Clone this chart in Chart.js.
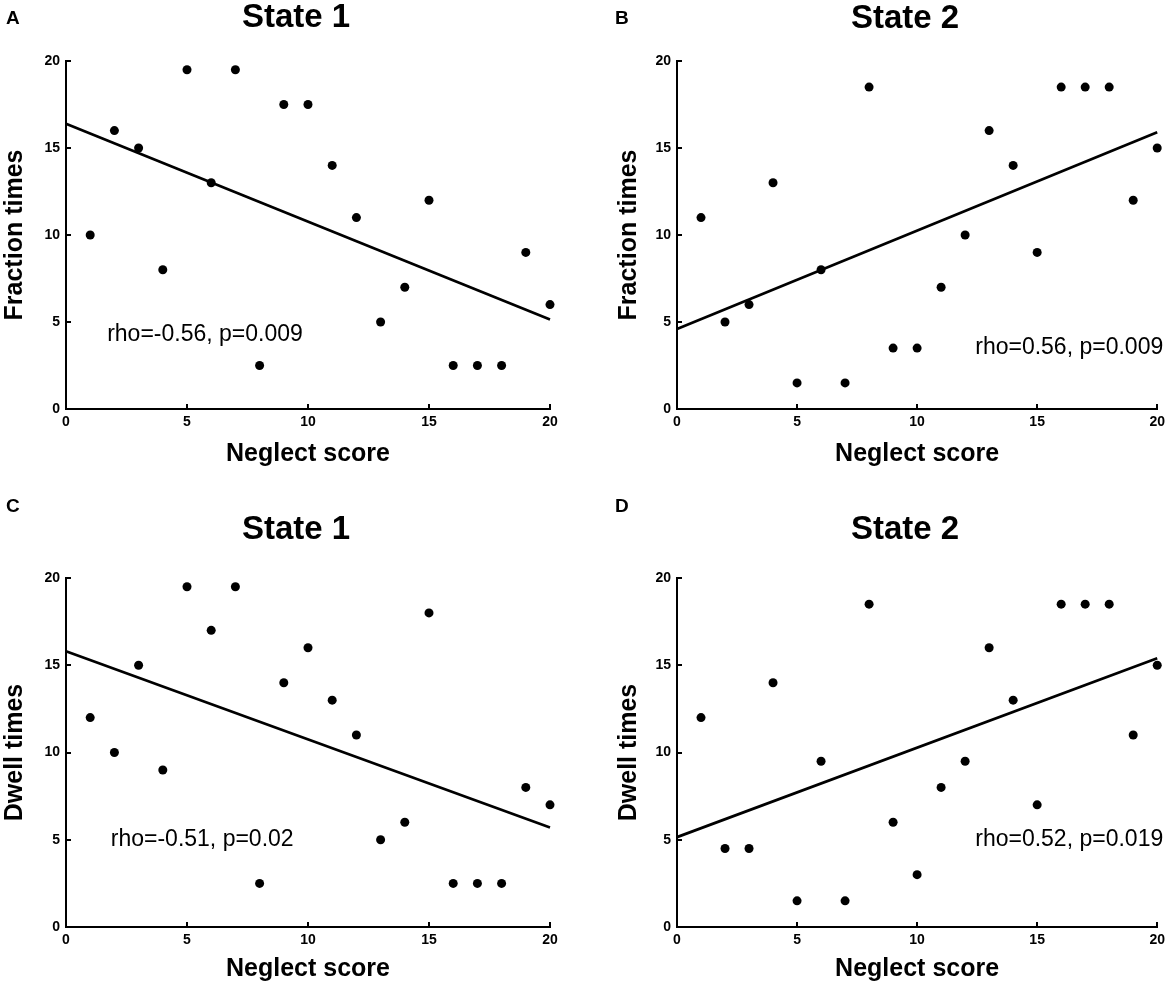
<!DOCTYPE html>
<html>
<head>
<meta charset="utf-8">
<script src="https://cdn.jsdelivr.net/npm/chart.js@4.4.1/dist/chart.umd.min.js"></script>
<style>
  html, body { margin: 0; padding: 0; background: #fff; }
  #wrap { position: relative; width: 1170px; height: 985px; }
  canvas { position: absolute; }
</style>
</head>
<body>
<div id="wrap">
  <canvas id="cA" width="585" height="490" style="left:0;top:0"></canvas>
  <canvas id="cB" width="585" height="490" style="left:585px;top:0"></canvas>
  <canvas id="cC" width="585" height="495" style="left:0;top:490px"></canvas>
  <canvas id="cD" width="585" height="495" style="left:585px;top:490px"></canvas>
</div>
<script>
// --- data ---
const neglectScore = [1, 2, 3, 4, 5, 6, 7, 8, 9, 10, 11, 12, 13, 14, 15, 16, 17, 18, 19, 20];
const fractionState1 = [10, 16, 15, 8, 19.5, 13, 19.5, 2.5, 17.5, 17.5, 14, 11, 5, 7, 12, 2.5, 2.5, 2.5, 9, 6];
const fractionState2 = [11, 5, 6, 13, 1.5, 8, 1.5, 18.5, 3.5, 3.5, 7, 10, 16, 14, 9, 18.5, 18.5, 18.5, 12, 15];
const dwellState1 = [12, 10, 15, 9, 19.5, 17, 19.5, 2.5, 14, 16, 13, 11, 5, 6, 18, 2.5, 2.5, 2.5, 8, 7];
const dwellState2 = [12, 4.5, 4.5, 14, 1.5, 9.5, 1.5, 18.5, 6, 3, 8, 9.5, 16, 13, 7, 18.5, 18.5, 18.5, 11, 15];

// regression lines, value at x = 0 and x = 20
const fitX = [0, 20];
const fitFraction1 = [16.4, 5.15];
const fitFraction2 = [4.6, 15.9];
const fitDwell1 = [15.8, 5.7];
const fitDwell2 = [5.15, 15.4];

const axisTicks = [0, 5, 10, 15, 20];
const statFraction1 = "rho=-0.56, p=0.009";
const statFraction2 = "rho=0.56, p=0.009";
const statDwell1 = "rho=-0.51, p=0.02";
const statDwell2 = "rho=0.52, p=0.019";

const FONT = '"Liberation Sans", Arial, Helvetica, sans-serif';

// letter, title, stat label, inward tick marks
const panelText = {
  id: "panelText",
  afterDraw(chart, args, o) {
    const { ctx, chartArea: a, scales } = chart;
    ctx.save();
    ctx.fillStyle = "#000";
    ctx.textBaseline = "middle";

    ctx.font = "bold 19px " + FONT;
    ctx.textAlign = "left";
    ctx.fillText(o.letter, o.letterX, o.letterY);

    ctx.font = "bold 33px " + FONT;
    ctx.textAlign = "center";
    ctx.fillText(o.title, (a.left + a.right) / 2 - 12, o.titleY);

    ctx.font = "23px " + FONT;
    ctx.textAlign = o.statAlign;
    ctx.fillText(
      o.stat,
      scales.x.getPixelForValue(o.statX),
      scales.y.getPixelForValue(o.statY)
    );

    // ticks point into the plot
    ctx.strokeStyle = "#000";
    ctx.lineWidth = 2;
    ctx.beginPath();
    scales.x.ticks.forEach((t) => {
      const px = Math.round(scales.x.getPixelForValue(t.value));
      ctx.moveTo(px, a.bottom);
      ctx.lineTo(px, a.bottom - 5);
    });
    scales.y.ticks.forEach((t) => {
      const py = Math.round(scales.y.getPixelForValue(t.value));
      ctx.moveTo(a.left, py);
      ctx.lineTo(a.left + 5, py);
    });
    ctx.stroke();
    ctx.restore();
  },
};

const panels = [
  { id: "cA", letter: "A", title: "State 1", yTitle: "Fraction times", ys: fractionState1, fit: fitFraction1,
    stat: statFraction1, statX: 1.7, statY: 4.25, statAlign: "left",
    letterX: 6, letterY: 19, titleY: 18, pad: { left: 0, top: 61, right: 35, bottom: 21 }, yWidth: 66, xHeight: 60 },
  { id: "cB", letter: "B", title: "State 2", yTitle: "Fraction times", ys: fractionState2, fit: fitFraction2,
    stat: statFraction2, statX: 20.25, statY: 3.5, statAlign: "right",
    letterX: 30, letterY: 19, titleY: 19, pad: { left: 29, top: 61, right: 9, bottom: 21 }, yWidth: 63, xHeight: 60 },
  { id: "cC", letter: "C", title: "State 1", yTitle: "Dwell times", ys: dwellState1, fit: fitDwell1,
    stat: statDwell1, statX: 1.85, statY: 5.0, statAlign: "left",
    letterX: 6, letterY: 17, titleY: 40, pad: { left: 0, top: 88, right: 35, bottom: 1 }, yWidth: 66, xHeight: 57 },
  { id: "cD", letter: "D", title: "State 2", yTitle: "Dwell times", ys: dwellState2, fit: fitDwell2,
    stat: statDwell2, statX: 20.25, statY: 5.0, statAlign: "right",
    letterX: 30, letterY: 17, titleY: 40, pad: { left: 29, top: 88, right: 9, bottom: 1 }, yWidth: 63, xHeight: 57 },
];

panels.forEach((p) => {
  const ctx = document.getElementById(p.id).getContext("2d");
  const tickFont = { family: FONT, size: 14, weight: "bold" };
  const titleFont = { family: FONT, size: 25, weight: "bold", lineHeight: 1.2 };
  new Chart(ctx, {
    type: "scatter",
    data: {
      datasets: [
        {
          data: neglectScore.map((x, i) => ({ x, y: p.ys[i] })),
          pointRadius: 4.5,
          pointBackgroundColor: "#000",
          pointBorderColor: "#000",
          pointBorderWidth: 0,
          clip: false,
        },
        {
          type: "line",
          data: fitX.map((x, i) => ({ x, y: p.fit[i] })),
          borderColor: "#000",
          borderWidth: 2.7,
          pointRadius: 0,
          fill: false,
          clip: false,
        },
      ],
    },
    options: {
      responsive: false,
      animation: false,
      events: [],
      layout: { padding: p.pad },
      plugins: {
        legend: { display: false },
        tooltip: { enabled: false },
        panelText: p,
      },
      scales: {
        x: {
          type: "linear",
          min: 0,
          max: 20,
          afterBuildTicks: (s) => { s.ticks = axisTicks.map((v) => ({ value: v })); },
          afterFit: (s) => { s.height = p.xHeight; },
          grid: { display: false, drawTicks: false },
          border: { display: true, color: "#000", width: 2 },
          ticks: { color: "#000", font: tickFont, padding: 5, maxRotation: 0 },
          title: { display: true, text: "Neglect score", color: "#000", font: titleFont, padding: 0 },
        },
        y: {
          type: "linear",
          min: 0,
          max: 20,
          afterBuildTicks: (s) => { s.ticks = axisTicks.map((v) => ({ value: v })); },
          afterFit: (s) => { s.width = p.yWidth; },
          grid: { display: false, drawTicks: false },
          border: { display: true, color: "#000", width: 2 },
          ticks: { color: "#000", font: tickFont, padding: 6 },
          title: { display: true, text: p.yTitle, color: "#000", font: titleFont, padding: 0 },
        },
      },
    },
    plugins: [panelText],
  });
});
</script>
</body>
</html>
